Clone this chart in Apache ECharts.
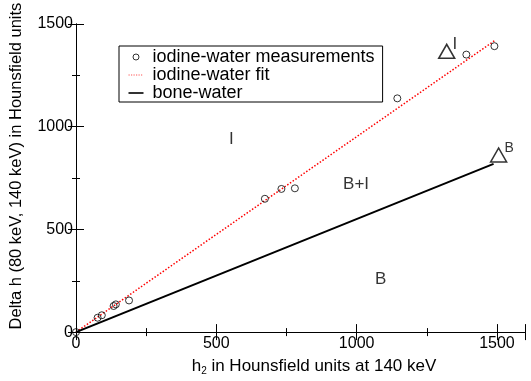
<!DOCTYPE html>
<html>
<head>
<meta charset="utf-8">
<script src="https://cdn.jsdelivr.net/npm/echarts@6/dist/echarts.min.js"></script>
<style>html,body{margin:0;padding:0;background:#fff}#c{width:531px;height:381px}</style>
</head>
<body>
<div id="c"></div>
<script>
// measured iodine-water points
var measX = [0, 77, 92, 134, 142, 189, 673, 732, 780, 1145, 1391, 1491];
var measY = [0, 70, 82, 127, 135, 154, 649, 697, 700, 1138, 1351, 1392];
// iodine-water fit line end points
var fitX = [0, 1495];
var fitY = [0, 1422];
// bone-water line end points
var boneX = [0, 1488];
var boneY = [0, 819];
// region labels
var regionText = ['I', 'B+I', 'B'];
var regionX = [554, 998, 1086];
var regionY = [938, 721, 257];
// triangle markers
var triText = ['I', 'B'];
var triX = [1321, 1506];
var triY = [1367, 862];
var triFont = [17, 14];

function pairs(xs, ys) { return xs.map(function (x, i) { return [x, ys[i]]; }); }

var FONT = 'Liberation Sans, Arial, Helvetica, sans-serif';
var chart = echarts.init(document.getElementById('c'));
var axisCommon = {
  axisLine: { lineStyle: { color: '#000', width: 1 } },
  axisTick: { inside: true, length: 8, lineStyle: { color: '#000' } },
  minorTick: { show: true, splitNumber: 2, length: 4, lineStyle: { color: '#000' } },
  splitLine: { show: false },
  minorSplitLine: { show: false }
};
var plain = function (v) { return String(v); };
var dotted = 'path://M0,0M15,14';
for (var k = 0; k < 15; k += 2.5) { dotted += 'M' + k + ',6.4h1.2v1.2h-1.2z'; }
chart.setOption({
  animation: false,
  textStyle: { fontFamily: FONT },
  grid: { left: 74, right: 6, top: 24, bottom: 42, containLabel: false },
  legend: {
    orient: 'vertical', left: 119, top: 46,
    borderColor: '#000', borderWidth: 1, padding: [2, 8, 0, 9],
    itemWidth: 15, itemHeight: 14, itemGap: 0,
    textStyle: { fontSize: 18, color: '#000', lineHeight: 18, padding: [0, 0, 0, 4], fontFamily: FONT },
    data: [
      { name: 'iodine-water measurements', icon: 'path://M0,0M15,14M4.5,7a3,3 0 1,0 6,0a3,3 0 1,0 -6,0Z',
        itemStyle: { color: 'transparent', borderColor: '#000', borderWidth: 1 } },
      { name: 'iodine-water fit', icon: dotted, itemStyle: { color: '#ff5555', borderWidth: 0 } },
      { name: 'bone-water', icon: 'path://M0,0M15,14M0,6.2h15v1.6h-15z', itemStyle: { color: '#000', borderWidth: 0 } }
    ]
  },
  xAxis: [
    Object.assign({}, axisCommon, {
      type: 'value', min: 0, max: 1600, interval: 500,
      name: '{n|h}{s|2}{n| in Hounsfield units at 140 keV}', nameLocation: 'middle', nameGap: 11,
      nameTextStyle: { padding: [0, 0, 0, 27], rich: {
        n: { fontSize: 17, color: '#000', fontFamily: FONT, lineHeight: 20 },
        s: { fontSize: 10, color: '#000', fontFamily: FONT, lineHeight: 20, padding: [10, 0, 0, 0] } } },
      axisLabel: { color: '#000', fontSize: 16, margin: 3, showMaxLabel: false, fontFamily: FONT, formatter: plain }
    }),
    Object.assign({}, axisCommon, {
      type: 'value', min: 0, max: 1600, interval: 500, position: 'top',
      axisLabel: { show: false }
    })
  ],
  yAxis: [
    Object.assign({}, axisCommon, {
      type: 'value', min: 0, max: 1500, interval: 500,
      name: 'Delta h (80 keV, 140 keV) in Hounsfield units', nameLocation: 'middle', nameGap: 51,
      nameTextStyle: { fontSize: 16.5, color: '#000', padding: [0, 0, 0, 24], fontFamily: FONT },
      axisLabel: { color: '#000', fontSize: 16, margin: 3, fontFamily: FONT, formatter: plain }
    }),
    Object.assign({}, axisCommon, {
      type: 'value', min: 0, max: 1500, interval: 500, position: 'right',
      axisLabel: { show: false }
    })
  ],
  series: [
    {
      name: 'iodine-water fit', type: 'line', data: pairs(fitX, fitY), symbol: 'none',
      lineStyle: { color: '#ff0000', width: 1.5, type: [1.5, 1.8] }, itemStyle: { color: '#ff0000' }, z: 2
    },
    {
      name: 'bone-water', type: 'line', data: pairs(boneX, boneY), symbol: 'none',
      lineStyle: { color: '#000', width: 2 }, itemStyle: { color: '#000' }, z: 2
    },
    {
      name: 'iodine-water measurements', type: 'scatter', data: pairs(measX, measY),
      symbol: 'circle', symbolSize: 7, clip: false,
      itemStyle: { color: 'transparent', borderColor: '#000', borderWidth: 1 }, z: 3
    },
    {
      name: 'regions', type: 'scatter', symbolSize: 0, clip: false,
      data: regionText.map(function (t, i) { return { value: [regionX[i], regionY[i]], name: t }; }),
      label: { show: true, position: 'inside', formatter: '{b}', color: '#000', fontSize: 17, fontFamily: FONT }
    },
    {
      name: 'triangles', type: 'scatter', symbol: 'triangle', symbolSize: [16, 14], clip: false,
      data: triText.map(function (t, i) {
        return { value: [triX[i], triY[i]], name: t, label: { fontSize: triFont[i] } };
      }),
      itemStyle: { color: 'transparent', borderColor: '#000', borderWidth: 1.5 },
      label: { show: true, position: 'right', distance: 0, offset: [-3, -7], formatter: '{b}', color: '#000', fontFamily: FONT }
    }
  ]
});
</script>
</body>
</html>
